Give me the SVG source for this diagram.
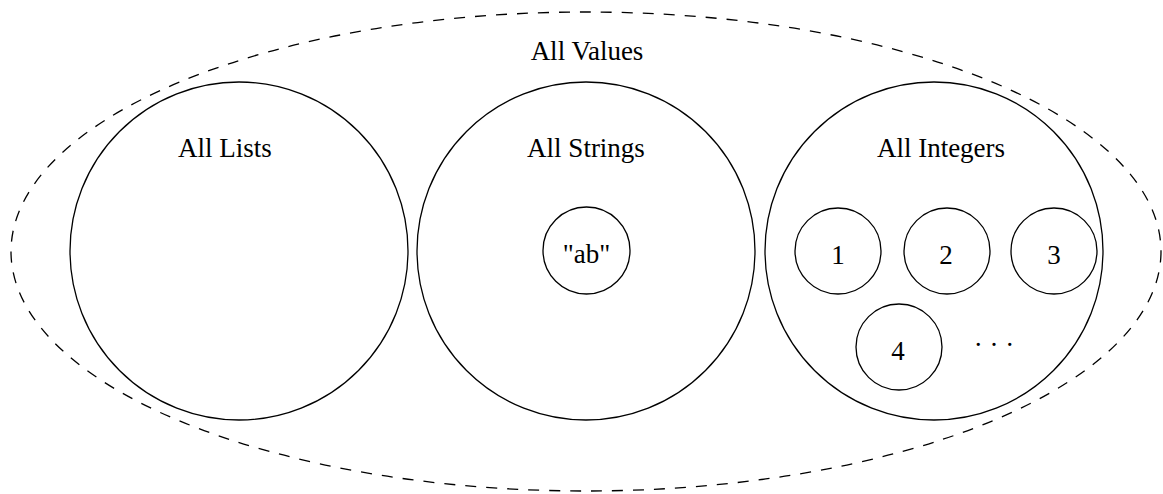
<svg xmlns="http://www.w3.org/2000/svg" width="1163" height="494" viewBox="0 0 1163 494">
<style>
.c{fill:none;stroke:#000;stroke-width:1.3}
.d{fill:none;stroke:#000;stroke-width:1.3;stroke-dasharray:11 10}
text{font-family:"Liberation Serif","Times New Roman",serif;font-size:27px;fill:#000;text-anchor:middle}
</style>
<rect width="1163" height="494" fill="#fff"/>
<g id="all-values">
<ellipse class="d" cx="586" cy="251.5" rx="575" ry="239.5"/>
<text x="587" y="60">All Values</text>
</g>
<g id="all-lists">
<circle class="c" cx="239" cy="251" r="169"/>
<text x="225" y="157">All Lists</text>
</g>
<g id="all-strings">
<circle class="c" cx="586" cy="251" r="169"/>
<text x="586" y="157">All Strings</text>
</g>
<g id="str-ab">
<circle class="c" cx="586.5" cy="250.5" r="43.5"/>
<text x="586.5" y="263">"ab"</text>
</g>
<g id="all-integers">
<circle class="c" cx="934" cy="251" r="169"/>
<text x="941" y="157">All Integers</text>
</g>
<g id="int-1">
<circle class="c" cx="838" cy="251" r="43"/>
<text x="838" y="264">1</text>
</g>
<g id="int-2">
<circle class="c" cx="947" cy="251" r="43"/>
<text x="946" y="264">2</text>
</g>
<g id="int-3">
<circle class="c" cx="1054" cy="251" r="43"/>
<text x="1054" y="264">3</text>
</g>
<g id="int-4">
<circle class="c" cx="899" cy="347" r="43"/>
<text x="898" y="360">4</text>
</g>
<g id="ellipsis">
<text x="994" y="354">· · ·</text>
</g>
<g id="connectors"></g>
</svg>
